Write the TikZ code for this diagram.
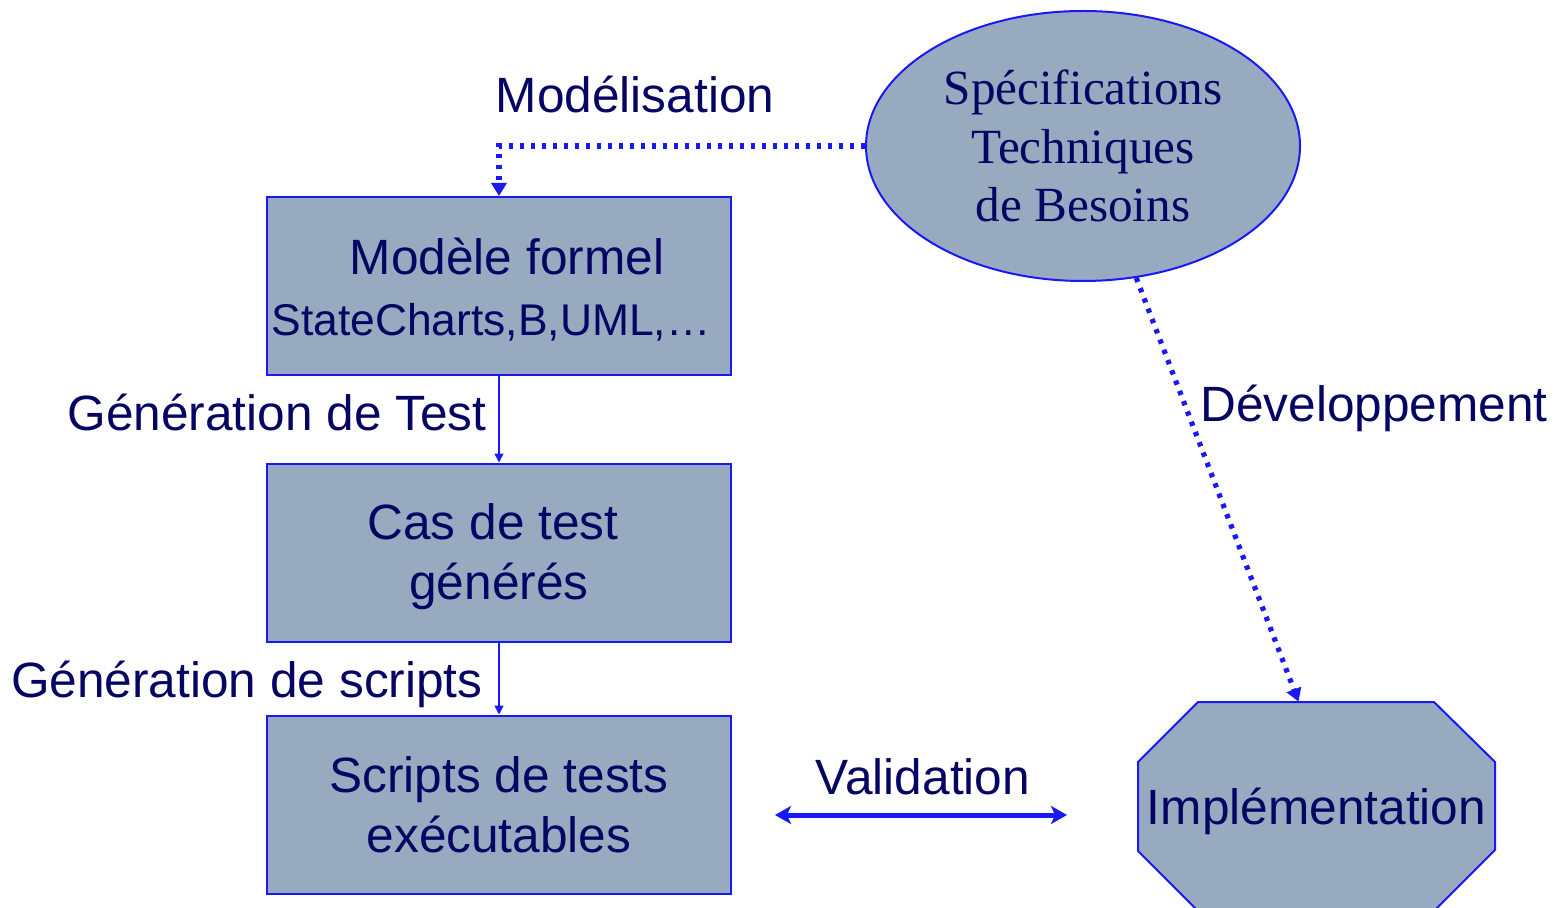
\documentclass[tikz,border=0pt]{standalone}
\usepackage{fontspec}
\setmainfont{Liberation Sans}
\newfontfamily\specfont{Liberation Serif}
\usetikzlibrary{arrows.meta,shapes.geometric}
\definecolor{boxfill}{RGB}{152,170,191}
\definecolor{edgeblue}{RGB}{25,25,245}
\definecolor{inkblue}{RGB}{5,5,100}

\begin{document}
\begin{tikzpicture}[x=0.5pt,y=-0.5pt,
  every node/.style={text=inkblue, font=\fontsize{24.8}{30}\selectfont},
  stepbox/.style={draw=edgeblue, fill=boxfill, line width=1pt,
    minimum width=232pt, minimum height=89pt, align=center, inner sep=0pt},
  specnode/.style={ellipse, draw=edgeblue, fill=boxfill, line width=1pt,
    minimum width=217pt, minimum height=135pt, align=center, inner sep=0pt,
    font=\specfont\fontsize{24.6}{29.25}\selectfont},
  octoline/.style={draw=edgeblue, fill=boxfill, line width=1pt, line join=miter},
  octotext/.style={inner sep=0pt, minimum width=178.5pt, minimum height=104pt,
    text depth=0pt},
  dotlink/.style={draw=edgeblue, line width=2.6pt, dash pattern=on 2.2pt off 3.3pt,
    -{Triangle[width=7.5pt,length=6.5pt]}},
  steplink/.style={draw=edgeblue, line width=0.8pt,
    -{Triangle[width=4.5pt,length=4.5pt]}},
  vallink/.style={draw=edgeblue, line width=2.5pt,
    {Stealth[width=9pt,length=8pt,inset=2pt]}-{Stealth[width=9pt,length=8pt,inset=2pt]}},
  lbl/.style={inner sep=0pt}
]
\useasboundingbox (0,0) rectangle (1561,908);

% octagonal outline of the implementation block
\filldraw[octoline] (1198,702) -- (1434,702) -- (1495,762) -- (1495,850)
  -- (1434,911) -- (1198,911) -- (1138,851) -- (1138,762) -- cycle;

% main blocks
\node[stepbox] (box1) at (499,286)
  {\rule{0pt}{21.8pt}\hspace*{8pt}Modèle formel\\[0.5pt]{\fontsize{22.2}{29}\selectfont StateCharts,B,UML,…\hspace*{8pt}}};
\node[stepbox] (box2) at (499,552.5) {\rule{0pt}{22.5pt}Cas de test\hspace*{6pt}\\générés};
\node[stepbox] (box3) at (499,804.5) {Scripts de tests\\exécutables};
\node[specnode] (spec) at (1083,146) {Spécifications\\Techniques\\de Besoins};
\node[octotext] (impl) at (1316.5,806) {Implémentation};

% free ends of the validation arrow
\coordinate (valL) at (775,815);
\coordinate (valR) at (1067,815);

% connectors
\draw[dotlink] (spec.west) -| (box1.north);
\draw[dotlink] (spec.-68) -- ([xshift=-9pt]impl.north);
\draw[steplink] (box1.south) -- (box2.north);
\draw[steplink] (box2.south) -- (box3.north);
\draw[vallink] (valL) -- (valR);

% labels
\node[lbl, anchor=base] (lmod) at (635,113) {Modélisation};
\node[lbl, anchor=base east] (lgt) at (487,430) {Génération de Test};
\node[lbl, anchor=base east] (lgs) at (483,697) {Génération de scripts};
\node[lbl, anchor=base west] (ldev) at (1200,422) {Développement};
\node[lbl, anchor=base] (lval) at (923,794) {Validation};
\end{tikzpicture}
\end{document}
